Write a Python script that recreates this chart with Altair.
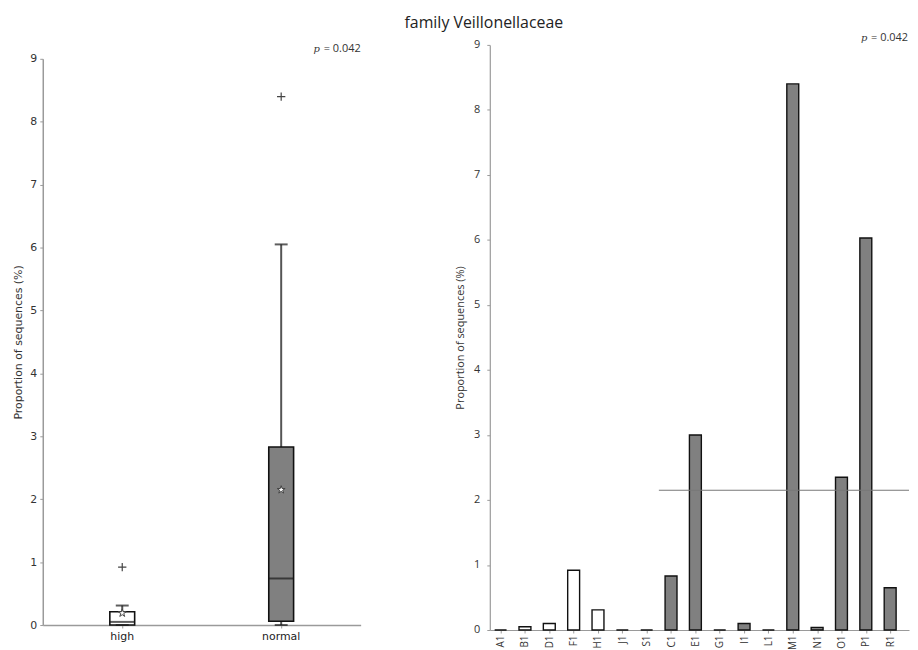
import json
import altair as alt
import pandas as pd

# ---------------- data ----------------
title_text = "family Veillonellaceae"
p_symbol = "p"
p_value_text = "= 0.042"
y_title = "Proportion of sequences (%)"

groups = ["high", "normal"]
box_q1 = [0.0, 0.06]
box_median = [0.05, 0.74]
box_q3 = [0.21, 2.83]
whisker_low = [0.0, 0.0]
whisker_high = [0.31, 6.05]
outlier_values = [0.92, 8.40]
group_means = [0.19, 2.15]

samples = ["A1", "B1", "D1", "F1", "H1", "J1", "S1", "C1", "E1",
           "G1", "I1", "L1", "M1", "N1", "O1", "P1", "R1"]
sample_groups = ["high", "high", "high", "high", "high", "high", "high",
                 "normal", "normal", "normal", "normal", "normal",
                 "normal", "normal", "normal", "normal", "normal"]
sample_values = [0.0, 0.05, 0.10, 0.92, 0.31, 0.0, 0.0, 0.83, 3.00,
                 0.0, 0.10, 0.0, 8.40, 0.04, 2.35, 6.03, 0.65]

y_ticks = [0, 1, 2, 3, 4, 5, 6, 7, 8, 9]

# ---------------- tables ----------------
box_df = pd.DataFrame({
    "group": groups, "q1": box_q1, "median": box_median, "q3": box_q3,
    "lo": whisker_low, "hi": whisker_high, "outlier": outlier_values,
    "mean": group_means,
})
bars_df = pd.DataFrame({
    "sample": samples, "idx": list(range(len(samples))),
    "group": sample_groups, "value": sample_values,
})
first_normal = sample_groups.index("normal")
mean_df = pd.DataFrame({
    "start": [first_normal - 0.5],
    "mean": [group_means[groups.index("normal")]],
})

fill_scale = alt.Scale(domain=groups, range=["#ffffff", "#808080"])

STAR = ("M0,-1L0.2245,-0.309L0.951,-0.309L0.363,0.118L0.588,0.809L0,0.382"
        "L-0.588,0.809L-0.363,0.118L-0.951,-0.309L-0.2245,-0.309Z")
PLUS = "M-1,0L1,0M0,-1L0,1"

H = 589
W1 = 320
W2 = 422

# ---------------- left: box plot ----------------
left_y_scale = alt.Scale(domain=[0, 9], range=[584, 14], nice=False, zero=False)
left_y_axis = alt.Axis(
    title=y_title, values=y_ticks, format="d", grid=False,
    domainColor="#9a9a9a", domainWidth=1.5, tickColor="#9a9a9a", tickSize=3,
    labelFont="DejaVu Sans", labelFontSize=11, labelColor="#333333", labelPadding=3,
    titleFont="DejaVu Sans", titleFontSize=11, titleFontWeight="normal",
    titleColor="#333333", titlePadding=6,
)
left_x = alt.X(
    "group:N", sort=groups,
    scale=alt.Scale(paddingInner=0, paddingOuter=0),
    axis=alt.Axis(title=None, labelAngle=0, offset=-5, domainColor="#9a9a9a",
                  domainWidth=1.5, tickColor="#9a9a9a", tickSize=3,
                  labelFont="DejaVu Sans", labelFontSize=11, labelColor="#222222",
                  labelPadding=3),
)


def ly(field):
    return alt.Y(field, type="quantitative", scale=left_y_scale, axis=left_y_axis)


lb = alt.Chart(box_df)
whisk_up = lb.mark_rule(color="#555555", strokeWidth=2).encode(x=left_x, y=ly("q3"), y2="hi")
whisk_dn = lb.mark_rule(color="#555555", strokeWidth=2).encode(x=left_x, y=ly("lo"), y2="q1")
box = lb.mark_bar(size=25, stroke="#111111", strokeWidth=1.6).encode(
    x=left_x, y=ly("q1"), y2="q3",
    fill=alt.Fill("group:N", scale=fill_scale, legend=None),
)
med = lb.mark_tick(size=25, thickness=2, color="#1a1a1a").encode(x=left_x, y=ly("median"))
cap_hi = lb.mark_tick(size=13, thickness=2, color="#1a1a1a").encode(x=left_x, y=ly("hi"))
cap_lo = lb.mark_tick(size=13, thickness=2, color="#1a1a1a").encode(x=left_x, y=ly("lo"))
outl = lb.mark_point(shape=PLUS, size=70, filled=False, color="#444444",
                     strokeWidth=1.2, opacity=1).encode(x=left_x, y=ly("outlier"))
star = lb.mark_point(shape=STAR, size=70, filled=True, fill="#ffffff",
                     stroke="#444444", strokeWidth=1, opacity=1).encode(x=left_x, y=ly("mean"))

lp_df = pd.DataFrame({"p": [p_symbol], "t": [p_value_text]})
left_pval = alt.Chart(lp_df).mark_text(
    align="right", baseline="middle", font="Open Sans", fontSize=11, color="#333333"
).encode(text="t:N", x=alt.value(W1), y=alt.value(4))
left_psym = alt.Chart(lp_df).mark_text(
    align="right", baseline="middle", font="DejaVu Serif", fontStyle="italic",
    fontSize=10, color="#333333"
).encode(text="p:N", x=alt.value(W1 - 41), y=alt.value(4))

left = alt.layer(whisk_up, whisk_dn, box, med, cap_hi, cap_lo, outl, star,
                 left_pval, left_psym).properties(width=W1, height=H)

# ---------------- right: bar chart ----------------
label_expr = json.dumps(samples) + "[datum.value]"
right_x_scale = alt.Scale(domain=[-0.24, 16.57], nice=False, zero=False)
right_x_axis = alt.Axis(
    title=None, values=list(range(len(samples))), labelExpr=label_expr,
    labelAngle=270, labelOverlap=False, labelBound=False, labelFlush=False,
    grid=False, domainColor="#9a9a9a", domainWidth=1.2,
    tickColor="#9a9a9a", tickSize=3, labelFont="Open Sans",
    labelFontSize=10, labelColor="#333333", labelPadding=2,
)
right_y_scale = alt.Scale(domain=[0, 9], nice=False, zero=False)
right_y_axis = alt.Axis(
    title=y_title, values=y_ticks, format="d", grid=False,
    domainColor="#9a9a9a", domainWidth=1.2, tickColor="#9a9a9a", tickSize=3,
    labelFont="Open Sans", labelFontSize=11, labelColor="#333333", labelPadding=7,
    titleFont="Open Sans", titleFontSize=11, titleFontWeight="normal",
    titleColor="#333333", titlePadding=8,
)

bars = alt.Chart(bars_df).mark_bar(size=12, stroke="#111111", strokeWidth=1.4).encode(
    x=alt.X("idx:Q", scale=right_x_scale, axis=right_x_axis),
    y=alt.Y("value:Q", scale=right_y_scale, axis=right_y_axis),
    fill=alt.Fill("group:N", scale=fill_scale, legend=None),
)
mean_line = alt.Chart(mean_df).mark_rule(color="#777777", strokeWidth=1.2).encode(
    x=alt.X("start:Q", scale=right_x_scale, axis=right_x_axis),
    x2=alt.value(W2),
    y=alt.Y("mean:Q", scale=right_y_scale, axis=right_y_axis),
)

t_df = pd.DataFrame({"t": [title_text], "p": [p_symbol], "v": [p_value_text]})
main_title = alt.Chart(t_df).mark_text(
    align="center", baseline="middle", font="Open Sans", fontSize=16, color="#222222"
).encode(text="t:N", x=alt.value(-6), y=alt.value(-22))
right_pval = alt.Chart(t_df).mark_text(
    align="right", baseline="middle", font="Open Sans", fontSize=11, color="#333333"
).encode(text="v:N", x=alt.value(W2 - 1), y=alt.value(-7))
right_psym = alt.Chart(t_df).mark_text(
    align="right", baseline="middle", font="DejaVu Serif", fontStyle="italic",
    fontSize=10, color="#333333"
).encode(text="p:N", x=alt.value(W2 - 42), y=alt.value(-7))

right = alt.layer(bars, mean_line, main_title, right_pval, right_psym).properties(
    width=W2, height=H
)

chart = alt.hconcat(left, right, spacing=44).properties(
    padding={"left": 5, "top": 5, "right": 0, "bottom": 0},
    background="white",
).configure_view(stroke=None)

chart.save("out.html", embed_options={"renderer": "svg", "actions": False})
